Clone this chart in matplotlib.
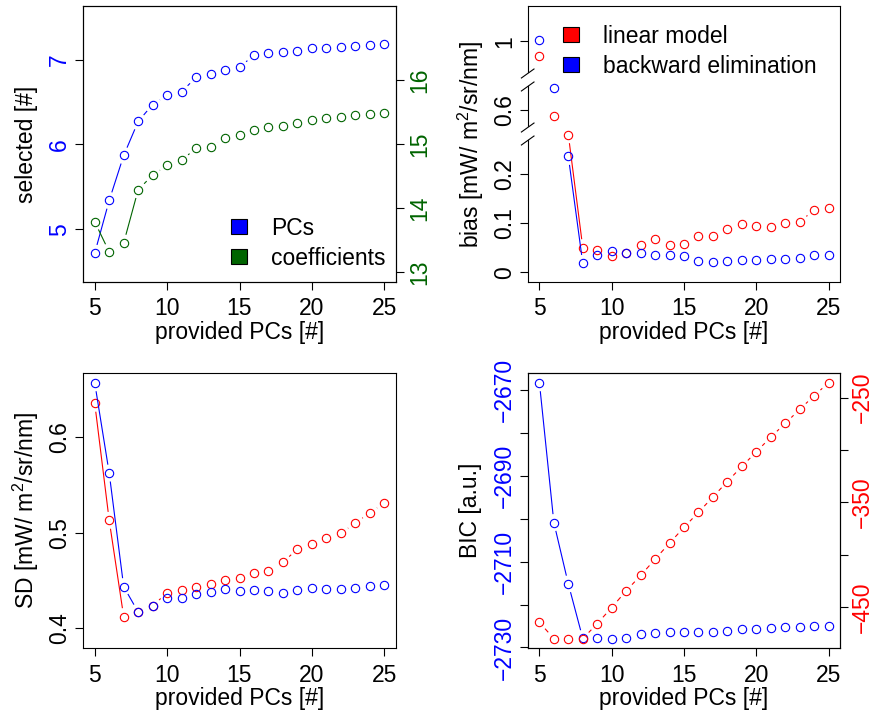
import numpy as np
import matplotlib
matplotlib.use('Agg')
import matplotlib.pyplot as plt
from matplotlib.patches import Patch, Polygon
from matplotlib.lines import Line2D
from matplotlib.transforms import IdentityTransform

plt.rcParams['font.family'] = ['Liberation Sans', 'DejaVu Sans']
plt.rcParams['font.size'] = 16.5
plt.rcParams['mathtext.fontset'] = 'custom'
plt.rcParams['mathtext.rm'] = 'Liberation Sans'
plt.rcParams['mathtext.it'] = 'Liberation Sans:italic'
plt.rcParams['axes.linewidth'] = 0.8

BLUE = '#0000FF'
RED = '#FF0000'
GREEN = '#006400'

pcs = list(range(5, 26))

# number of selected PCs / coefficients (backward elimination)
selected_pcs = [4.72, 5.34, 5.87, 6.27, 6.47, 6.58, 6.62, 6.79, 6.83, 6.88, 6.91,
                7.05, 7.08, 7.09, 7.10, 7.13, 7.14, 7.15, 7.16, 7.17, 7.18]
selected_coef = [13.79, 13.32, 13.46, 14.29, 14.52, 14.67, 14.75, 14.94, 14.96, 15.10,
                 15.14, 15.22, 15.27, 15.29, 15.33, 15.38, 15.41, 15.42, 15.46, 15.47, 15.49]

# bias
bias_lm = [0.971, 0.588, 0.279, 0.050, 0.0446, 0.034, 0.040, 0.055, 0.068, 0.055, 0.057,
           0.073, 0.073, 0.088, 0.098, 0.094, 0.092, 0.1006, 0.1027, 0.126, 0.131]
bias_be = [1.003, 0.645, 0.235, 0.018, 0.035, 0.043, 0.040, 0.0385, 0.035, 0.0345, 0.034,
           0.022, 0.0215, 0.022, 0.024, 0.0256, 0.027, 0.0276, 0.0297, 0.0345, 0.0345]

# standard deviation
sd_lm = [0.6356, 0.513, 0.4122, 0.417, 0.4237, 0.437, 0.4401, 0.4436, 0.446, 0.451, 0.453,
         0.4583, 0.460, 0.469, 0.483, 0.4885, 0.4944, 0.4997, 0.510, 0.521, 0.531]
sd_be = [0.657, 0.5625, 0.4436, 0.417, 0.4237, 0.4314, 0.4317, 0.4362, 0.4377, 0.4408, 0.4387,
         0.4401, 0.4387, 0.4373, 0.4398, 0.4419, 0.4412, 0.4415, 0.4425, 0.4446, 0.445]

# BIC
bic_be = [-2668.3, -2700.9, -2715.2, -2727.9, -2727.8, -2728.0, -2727.7, -2726.9, -2726.7,
          -2726.4, -2726.3, -2726.3, -2726.3, -2726.2, -2725.8, -2725.6, -2725.4, -2725.3,
          -2725.2, -2725.1, -2725.0]
bic_lm = [-464.4, -480.0, -480.0, -480.0, -465.6, -450.3, -434.3, -419.7, -404.1, -388.8,
          -373.7, -359.4, -344.7, -330.0, -315.6, -301.7, -287.6, -274.5, -261.1, -248.1, -235.6]

# broken bias axis: real value breakpoints -> plotted coordinate
BREAK_REAL = [-1.0, 0.2805, 0.5513, 0.6609, 0.9215, 2.0]
BREAK_PLOT = [-1.0, 0.2805, 0.2805, 0.3901, 0.3901, 1.4685]

DPI = 100
XLIM = (4.19, 25.81)


def fwd(v):
    return np.interp(v, BREAK_REAL, BREAK_PLOT)


def inv(v):
    return np.interp(v, BREAK_PLOT, BREAK_REAL)


def type_b(ax, x, y, color, lines_from=0, gap=8.5):
    """Points with line segments that stop short of each point (R type='b')."""
    x = np.asarray(x, float)
    y = np.asarray(y, float)
    pts = ax.transData.transform(np.column_stack([x, y]))
    back = ax.transData.inverted()
    for i in range(lines_from, len(x) - 1):
        p0, p1 = pts[i], pts[i + 1]
        d = np.hypot(*(p1 - p0))
        if d <= 2 * gap:
            continue
        u = (p1 - p0) / d
        seg = back.transform(np.array([p0 + u * gap, p1 - u * gap]))
        ax.plot(seg[:, 0], seg[:, 1], color=color, lw=0.8, solid_capstyle='butt')
    ax.plot(x, y, 'o', mfc='none', mec=color, ms=6, mew=0.8, ls='none')


def style_axis(ax, ypad=2.5):
    ax.set_xlim(*XLIM)
    ax.set_xticks([5, 10, 15, 20, 25])
    ax.tick_params(axis='both', direction='out', length=6, width=0.8)
    ax.tick_params(axis='x', pad=5)
    ax.tick_params(axis='y', labelrotation=90, pad=ypad)


def center_ylabels(*axes):
    for a in axes:
        for lab in a.get_yticklabels():
            lab.set_va('center')


def finish_labels(ax, xlabel, ylabel):
    ax.set_xlabel(xlabel, va='center')
    ax.xaxis.set_label_coords(0.5, -0.183)
    ax.set_ylabel(ylabel, va='center')
    ax.yaxis.set_label_coords(-0.182, 0.5)


def add_legend(ax, labels, colors, anchor):
    handles = [Patch(facecolor=c, edgecolor='black', lw=0.8, label=l)
               for l, c in zip(labels, colors)]
    ax.legend(handles=handles, loc='upper left', bbox_to_anchor=anchor, frameon=False,
              borderpad=0, borderaxespad=0, handlelength=0.71, handleheight=0.655,
              handletextpad=1.05, labelspacing=0.3)


fig = plt.figure(figsize=(873 / DPI, 713 / DPI), dpi=DPI)

pos_tl = [83 / 873, 1 - 282 / 713, 313 / 873, 276 / 713]
pos_tr = [527.7 / 873, 1 - 282 / 713, 312.6 / 873, 276 / 713]
pos_bl = [83 / 873, 1 - 648.3 / 713, 313 / 873, 275.6 / 713]
pos_br = [527.7 / 873, 1 - 648.3 / 713, 312.6 / 873, 275.6 / 713]

# --- selected PCs / coefficients ---
ax1 = fig.add_axes(pos_tl)
ax1b = ax1.twinx()
style_axis(ax1)
style_axis(ax1b)
ax1.set_ylim(4.38, 7.63)
ax1b.set_ylim(12.85, 17.16)
ax1.set_yticks([5, 6, 7])
ax1b.set_yticks([13, 14, 15, 16])
center_ylabels(ax1, ax1b)
ax1.tick_params(axis='y', labelcolor=BLUE)
ax1b.tick_params(axis='y', labelcolor=GREEN)
type_b(ax1, pcs, selected_pcs, BLUE)
type_b(ax1b, pcs, selected_coef, GREEN)
finish_labels(ax1, 'provided PCs [#]', 'selected [#]')
add_legend(ax1b, ['PCs', 'coefficients'], [BLUE, GREEN], (0.473, 0.2366))

# --- bias with broken axis ---
ax2 = fig.add_axes(pos_tr)
style_axis(ax2)
ax2.set_yscale('function', functions=(fwd, inv))
ax2.set_ylim(-0.0197, 1.0716)
ax2.set_yticks([0, 0.1, 0.2, 0.6, 1])
ax2.set_yticklabels(['0', '0.1', '0.2', '0.6', '1'])
ax2.yaxis.set_minor_locator(matplotlib.ticker.NullLocator())
center_ylabels(ax2)
type_b(ax2, pcs, bias_lm, RED, lines_from=2)
type_b(ax2, pcs, bias_be, BLUE, lines_from=2)
finish_labels(ax2, 'provided PCs [#]', r'bias [mW/ m$^2$/sr/nm]')
add_legend(ax2, ['linear model', 'backward elimination'], [RED, BLUE], (0.112, 0.932))

# break marks on the bias axis
spine_x = ax2.transAxes.transform((0, 0))[0]
for real in (BREAK_REAL[1], BREAK_REAL[3]):
    cy = ax2.transData.transform((XLIM[0], real))[1]
    hw, rise, sep = 6.3, 4.5, 6.5
    top = [(spine_x - hw, cy + sep - rise), (spine_x + hw, cy + sep + rise)]
    bot = [(spine_x - hw, cy - sep - rise), (spine_x + hw, cy - sep + rise)]
    fig.add_artist(Polygon([bot[0], bot[1], top[1], top[0]], closed=True,
                           facecolor='white', edgecolor='none',
                           transform=IdentityTransform(), zorder=10))
    for a, b in (top, bot):
        fig.add_artist(Line2D([a[0], b[0]], [a[1], b[1]], color='black', lw=0.8,
                              transform=IdentityTransform(), zorder=11))

# --- standard deviation ---
ax3 = fig.add_axes(pos_bl)
style_axis(ax3)
ax3.set_ylim(0.379, 0.6676)
ax3.set_yticks([0.4, 0.5, 0.6])
center_ylabels(ax3)
type_b(ax3, pcs, sd_lm, RED)
type_b(ax3, pcs, sd_be, BLUE)
finish_labels(ax3, 'provided PCs [#]', r'SD [mW/ m$^2$/sr/nm]')

# --- BIC ---
ax4 = fig.add_axes(pos_br)
ax4b = ax4.twinx()
style_axis(ax4)
style_axis(ax4b, ypad=1.5)
ax4.set_ylim(-2730.2, -2665.96)
ax4b.set_ylim(-489.2, -226.1)
ax4.set_yticks(range(-2730, -2669, 10))
ax4.set_yticklabels(['\u22122730', '', '\u22122710', '', '\u22122690', '', '\u22122670'])
ax4b.set_yticks(range(-450, -249, 50))
ax4b.set_yticklabels(['\u2212450', '', '\u2212350', '', '\u2212250'])
center_ylabels(ax4, ax4b)
ax4.tick_params(axis='y', labelcolor=BLUE)
ax4b.tick_params(axis='y', labelcolor=RED)
type_b(ax4, pcs, bic_be, BLUE)
type_b(ax4b, pcs, bic_lm, RED)
finish_labels(ax4, 'provided PCs [#]', 'BIC [a.u.]')

fig.savefig('out.png', dpi=DPI)
